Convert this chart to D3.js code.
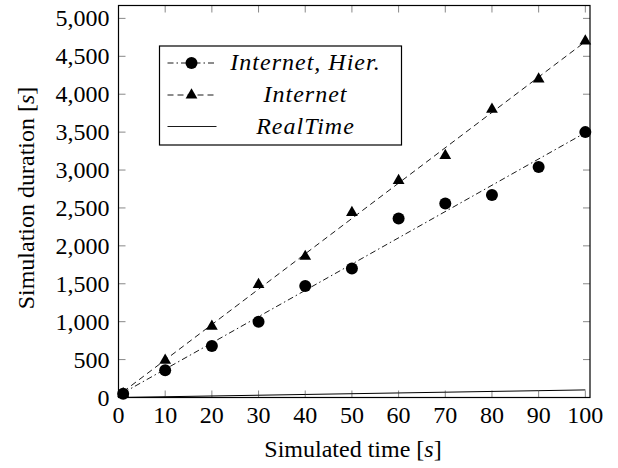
<!DOCTYPE html>
<html>
<head>
<meta charset="utf-8">
<script src="https://cdn.jsdelivr.net/npm/d3@7"></script>
</head>
<body style="margin:0">
<svg id="chart" width="618" height="468"></svg>
<script>
// data
const simTime = [1, 10, 20, 30, 40, 50, 60, 70, 80, 90, 100];
const hierDuration = [50, 360, 680, 1000, 1470, 1700, 2360, 2560, 2670, 3040, 3500];
const internetDuration = [50, 490, 940, 1490, 1860, 2440, 2860, 3190, 3800, 4200, 4700];
const realTime = [1, 10, 20, 30, 40, 50, 60, 70, 80, 90, 100];
const xTicks = [0, 10, 20, 30, 40, 50, 60, 70, 80, 90, 100];
const yTicks = [0, 500, 1000, 1500, 2000, 2500, 3000, 3500, 4000, 4500, 5000];
const legendNames = ["Internet, Hier.", "Internet", "RealTime"];

const margin = { left: 118.5, right: 28, top: 5.5, bottom: 70.5 };
const W = 618, H = 468;

const svg = d3.select("#chart");

// every label goes through here so the serif face is set the same way each time
function label(parent, px) {
  return parent.append("text")
    .style("font-family", '"Times New Roman"')
    .style("font-size", px + "px");
}

const x = d3.scaleLinear().domain([0, 101]).range([margin.left, W - margin.right]);
const y = d3.scaleLinear().domain([0, 5170]).range([H - margin.bottom, margin.top]);

// least squares fit, as the trend lines in the original
function fit(xs, ys) {
  const mx = d3.mean(xs), my = d3.mean(ys);
  let num = 0, den = 0;
  xs.forEach((v, i) => { num += (v - mx) * (ys[i] - my); den += (v - mx) * (v - mx); });
  const b = num / den;
  return v => my + b * (v - mx);
}

const tickLen = 7;
const fmt = d3.format(",");

// ticks (all four sides, pointing in)
const ticks = svg.append("g").attr("stroke", "#888").attr("stroke-width", 1);
xTicks.forEach(t => {
  ticks.append("line").attr("x1", x(t)).attr("x2", x(t))
    .attr("y1", y.range()[0]).attr("y2", y.range()[0] - tickLen);
  ticks.append("line").attr("x1", x(t)).attr("x2", x(t))
    .attr("y1", y.range()[1]).attr("y2", y.range()[1] + tickLen);
});
yTicks.forEach(t => {
  ticks.append("line").attr("y1", y(t)).attr("y2", y(t))
    .attr("x1", x.range()[0]).attr("x2", x.range()[0] + tickLen);
  ticks.append("line").attr("y1", y(t)).attr("y2", y(t))
    .attr("x1", x.range()[1]).attr("x2", x.range()[1] - tickLen);
});

// tick labels
xTicks.forEach(d => {
  label(svg, 24)
    .attr("x", x(d)).attr("y", y.range()[0] + 25)
    .attr("text-anchor", "middle")
    .text(d);
});
yTicks.forEach(d => {
  label(svg, 24)
    .attr("x", x.range()[0] - 9).attr("y", y(d) + 8)
    .attr("text-anchor", "end")
    .text(fmt(d));
});

// axis titles
const xt = label(svg, 24).attr("x", 353).attr("y", 457).attr("text-anchor", "middle");
xt.append("tspan").text("Simulated time [");
xt.append("tspan").style("font-style", "italic").text("s");
xt.append("tspan").text("]");

const yt = label(svg, 24)
  .attr("transform", "translate(34,198) rotate(-90)")
  .attr("text-anchor", "middle");
yt.append("tspan").text("Simulation duration [");
yt.append("tspan").style("font-style", "italic").text("s");
yt.append("tspan").text("]");

// trend lines
const line = d3.line().x(d => x(d[0])).y(d => y(d[1]));
const fHier = fit(simTime, hierDuration);
const fInt = fit(simTime, internetDuration);
const ends = [simTime[0], simTime[simTime.length - 1]];

svg.append("path").datum(ends.map(v => [v, fHier(v)]))
  .attr("d", line).attr("fill", "none").attr("stroke", "#000")
  .attr("stroke-width", 0.9).attr("stroke-dasharray", "6,3,1.5,3");
svg.append("path").datum(ends.map(v => [v, fInt(v)]))
  .attr("d", line).attr("fill", "none").attr("stroke", "#000")
  .attr("stroke-width", 0.9).attr("stroke-dasharray", "6,4");
svg.append("path").datum(simTime.map((v, i) => [v, realTime[i]]))
  .attr("d", line).attr("fill", "none").attr("stroke", "#000").attr("stroke-width", 1);

// markers
const tri = d3.symbol().type(d3.symbolTriangle).size(60);
svg.append("g").selectAll("circle").data(simTime).join("circle")
  .attr("cx", d => x(d)).attr("cy", (d, i) => y(hierDuration[i]))
  .attr("r", 6).attr("fill", "#000");
svg.append("g").selectAll("path").data(simTime).join("path")
  .attr("d", tri)
  .attr("transform", (d, i) => `translate(${x(d)},${y(internetDuration[i])})`)
  .attr("fill", "#000");

// plot frame
svg.append("rect")
  .attr("x", x.range()[0]).attr("y", y.range()[1])
  .attr("width", x.range()[1] - x.range()[0]).attr("height", y.range()[0] - y.range()[1])
  .attr("fill", "none").attr("stroke", "#000").attr("stroke-width", 1.2);

// legend
const lg = svg.append("g").attr("transform", "translate(159.5,46)");
lg.append("rect").attr("width", 242).attr("height", 99)
  .attr("fill", "#fff").attr("stroke", "#000").attr("stroke-width", 1.2);
const rowY = [17, 49, 80.5];
const dashes = ["6,3,1.5,3", "6,4", null];
legendNames.forEach((name, i) => {
  const l = lg.append("line").attr("x1", 8).attr("x2", 57)
    .attr("y1", rowY[i]).attr("y2", rowY[i])
    .attr("stroke", "#000").attr("stroke-width", 0.9);
  if (dashes[i]) l.attr("stroke-dasharray", dashes[i]);
  if (i === 0) lg.append("circle").attr("cx", 32).attr("cy", rowY[i]).attr("r", 6).attr("fill", "#000");
  if (i === 1) lg.append("path").attr("d", tri).attr("transform", `translate(32,${rowY[i]})`).attr("fill", "#000");
  label(lg, 24)
    .attr("x", 146).attr("y", rowY[i] + 7)
    .attr("text-anchor", "middle").style("font-style", "italic")
    .style("letter-spacing", "1px")
    .text(name);
});
</script>
</body>
</html>
